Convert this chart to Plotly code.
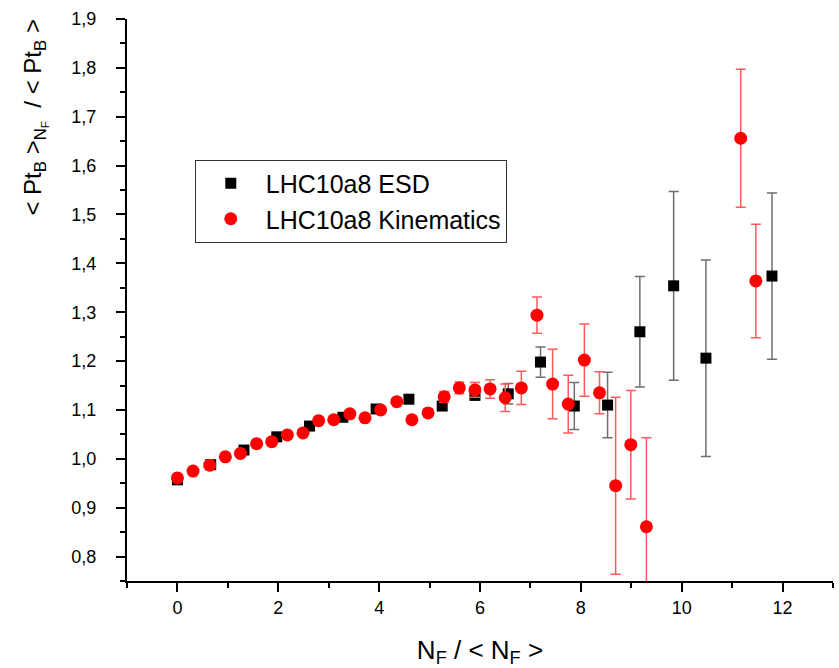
import plotly.graph_objects as go

# LHC10a8 ESD (reconstructed)
esd_x = [0.0, 0.66, 1.32, 1.97, 2.62, 3.28, 3.94, 4.59, 5.25, 5.90, 6.56,
         7.20, 7.87, 8.53, 9.17, 9.84, 10.48, 11.79]
esd_y = [0.957, 0.988, 1.018, 1.045, 1.067, 1.085, 1.102, 1.122, 1.108, 1.130, 1.133,
         1.198, 1.108, 1.110, 1.260, 1.354, 1.206, 1.374]
esd_err = [0.003, 0.003, 0.003, 0.003, 0.004, 0.004, 0.005, 0.006, 0.007, 0.010, 0.021,
           0.031, 0.048, 0.067, 0.113, 0.193, 0.201, 0.170]

# LHC10a8 Kinematics (generator level)
kin_x = [0.0, 0.31, 0.64, 0.95, 1.25, 1.57, 1.87, 2.18, 2.49, 2.80, 3.10, 3.42,
         3.72, 4.03, 4.35, 4.65, 4.97, 5.29, 5.59, 5.90, 6.20, 6.50, 6.82, 7.13,
         7.44, 7.75, 8.07, 8.37, 8.69, 8.99, 9.30, 11.17, 11.47]
kin_y = [0.961, 0.975, 0.987, 1.004, 1.011, 1.031, 1.035, 1.049, 1.053, 1.078, 1.080, 1.092,
         1.084, 1.100, 1.117, 1.080, 1.094, 1.127, 1.145, 1.141, 1.143, 1.125, 1.145, 1.294,
         1.153, 1.112, 1.202, 1.135, 0.945, 1.029, 0.861, 1.656, 1.364]
kin_err = [0.002, 0.002, 0.002, 0.002, 0.003, 0.003, 0.003, 0.003, 0.004, 0.004, 0.004, 0.005,
           0.005, 0.005, 0.006, 0.007, 0.008, 0.011, 0.012, 0.015, 0.019, 0.028, 0.034, 0.037,
           0.071, 0.059, 0.074, 0.043, 0.181, 0.111, 0.182, 0.141, 0.116]

x_ticks = [0, 2, 4, 6, 8, 10, 12]
y_ticks = [0.8, 0.9, 1.0, 1.1, 1.2, 1.3, 1.4, 1.5, 1.6, 1.7, 1.8, 1.9]

FONT = "Liberation Sans, Arial, sans-serif"

fig = go.Figure()

fig.add_trace(go.Scatter(
    x=esd_x, y=esd_y, mode="markers", name="LHC10a8 ESD",
    marker=dict(symbol="square", size=11, color="black"),
    error_y=dict(type="data", array=esd_err, visible=True,
                 color="#6e6e6e", thickness=1.5, width=5),
))
fig.add_trace(go.Scatter(
    x=kin_x, y=kin_y, mode="markers", name="LHC10a8 Kinematics",
    marker=dict(symbol="circle", size=13, color="#ff0000"),
    error_y=dict(type="data", array=kin_err, visible=True,
                 color="#ff5a5a", thickness=1.5, width=5),
))

axis_common = dict(
    showline=True, linecolor="black", linewidth=2,
    ticks="outside", ticklen=9, tickwidth=2, tickcolor="black",
    showgrid=False, zeroline=False, mirror=False,
    tickfont=dict(family=FONT, size=18, color="black"),
)

fig.update_xaxes(
    range=[-1, 13], tickvals=x_ticks, ticktext=[str(v) for v in x_ticks],
    minor=dict(ticks="outside", ticklen=5, tickwidth=2, tickcolor="black", dtick=1),
    title=dict(text="N<sub>F</sub> / < N<sub>F</sub> >",
               font=dict(family=FONT, size=26, color="black"), standoff=24),
    **axis_common,
)
fig.update_yaxes(
    range=[0.75, 1.9], tickvals=y_ticks,
    ticktext=[f"{v:.1f}".replace(".", ",") for v in y_ticks],
    minor=dict(ticks="outside", ticklen=5, tickwidth=2, tickcolor="black", dtick=0.05),
    ticklabelstandoff=16,
    **axis_common,
)

fig.add_annotation(
    text="< Pt<sub>B</sub> ><sub>N<sub>F</sub></sub>  / < Pt<sub>B</sub> >",
    textangle=-90, xref="paper", yref="paper", x=-0.13, y=0.825,
    xanchor="center", yanchor="middle", showarrow=False,
    font=dict(family=FONT, size=24, color="black"),
)

fig.update_layout(
    width=839, height=668,
    margin=dict(l=127, r=6, t=19, b=87),
    paper_bgcolor="white", plot_bgcolor="white",
    showlegend=True,
    legend=dict(
        x=0.096, y=0.75, xanchor="left", yanchor="top",
        bordercolor="#333333", borderwidth=1, bgcolor="white",
        font=dict(family=FONT, size=25, color="black"),
        itemwidth=60, tracegroupgap=0,
    ),
)

fig.write_html("out.html")
